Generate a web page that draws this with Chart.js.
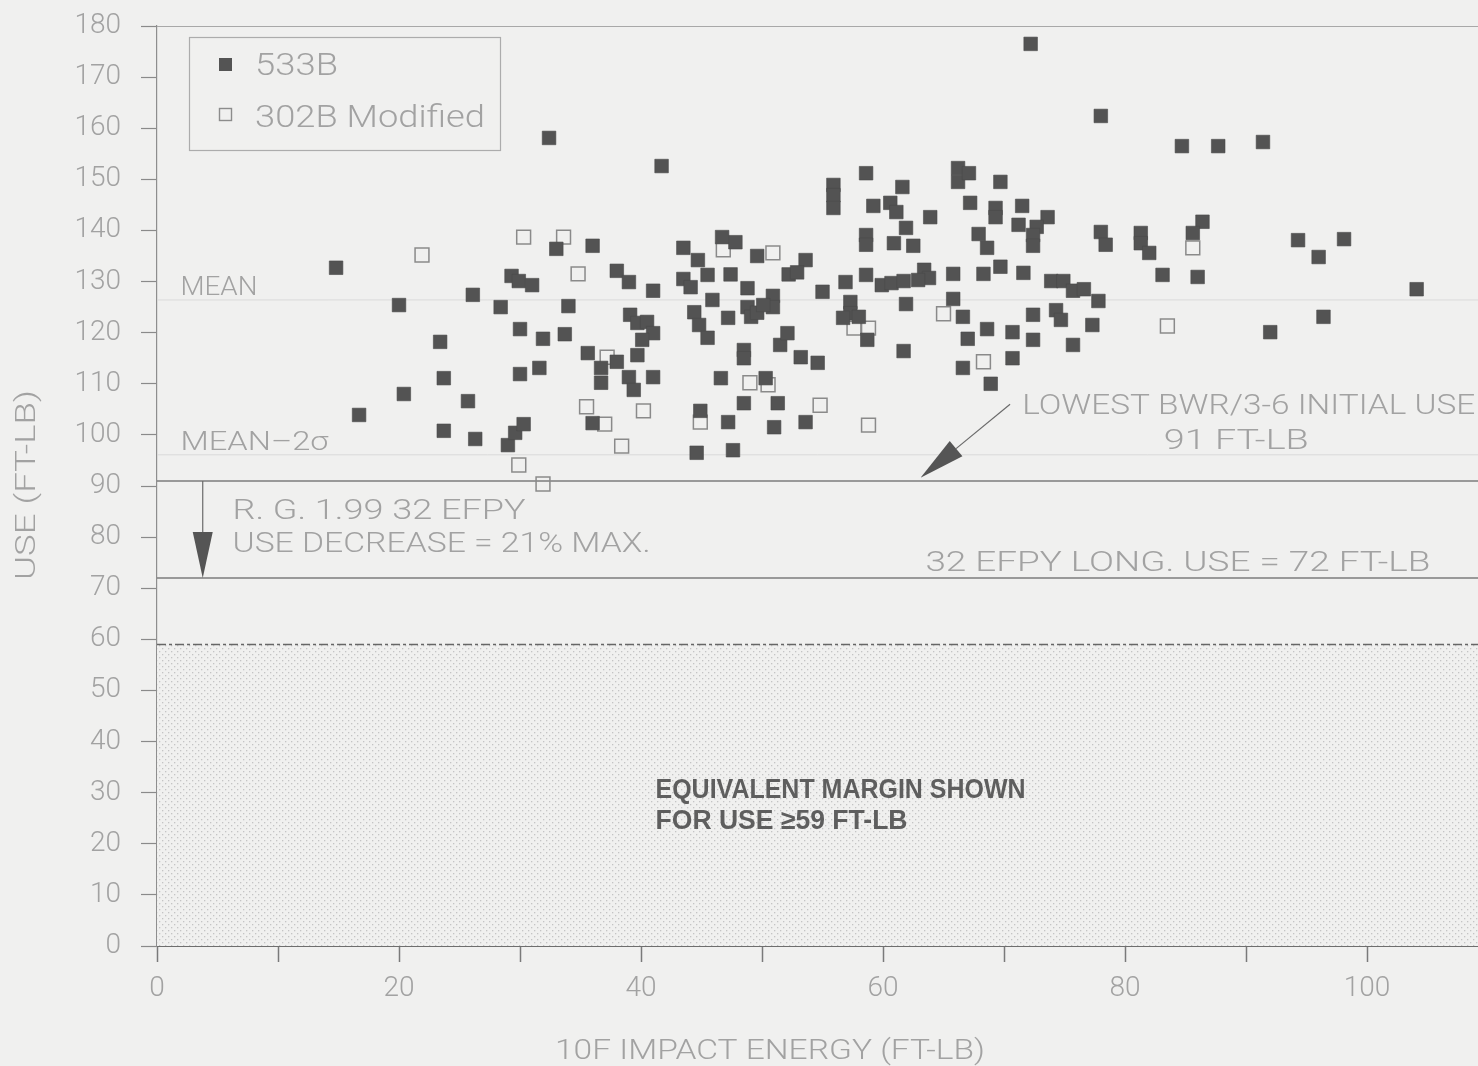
<!DOCTYPE html>
<html>
<head>
<meta charset="utf-8">
<script src="https://cdn.jsdelivr.net/npm/chart.js@4.4.1/dist/chart.umd.min.js"></script>
<style>
  html, body { margin: 0; padding: 0; background: #f0f0ef; }
  canvas { display: block; }
</style>
</head>
<body>
<canvas id="c" width="1478" height="1066"></canvas>
<script>
// 10F impact energy (x) vs. upper shelf energy (y), both in FT-LB
const x533 = [14.8,16.7,20.0,20.4,23.4,23.7,23.7,25.7,26.1,26.3,28.4,29.0,29.3,29.9,31.0,29.6,30.3,30.0,30.0,31.6,
  31.9,32.4,33.0,33.7,34.0,36.0,35.6,36.0,36.7,36.7,38.0,38.0,39.0,41.0,39.1,39.7,40.5,41.0,40.1,39.7,
  39.0,39.4,41.0,41.7,43.5,44.7,43.5,44.1,45.5,45.9,44.4,44.8,45.5,44.9,44.6,47.2,47.6,46.6,48.5,48.5,
  48.5,50.3,51.3,51.0,53.6,51.5,52.1,53.2,54.6,46.7,47.8,49.6,53.6,52.2,52.9,47.4,48.8,47.2,50.9,50.9,
  48.8,49.1,49.6,50.1,55.0,55.9,55.9,55.9,58.6,59.2,60.6,61.1,61.6,58.6,58.6,60.9,62.5,56.9,58.6,59.9,
  60.7,61.7,63.4,63.8,62.9,63.9,61.9,57.3,57.3,58.0,56.7,58.7,61.9,61.7,66.2,66.2,67.1,69.7,67.2,69.3,
  69.3,71.5,73.6,71.2,72.7,72.4,72.4,67.9,68.6,65.8,68.3,69.7,71.6,73.9,74.9,75.7,76.6,77.8,65.8,66.6,
  72.4,74.3,74.7,77.3,68.6,70.7,67.0,72.4,75.7,70.7,66.6,68.9,78.0,78.0,78.4,81.3,81.3,82.0,86.4,85.6,
  83.1,86.0,84.7,87.7,91.4,94.3,96.0,98.1,104.1,92.0,96.4,72.2];
const y533 = [132.7,103.9,125.4,108.0,118.2,111.1,100.8,106.6,127.4,99.2,125.0,98.0,131.1,130.1,129.3,100.4,102.1,120.7,111.9,113.1,
  118.8,158.1,136.4,119.7,125.2,137.0,116.0,102.3,113.1,110.2,114.3,132.1,129.9,128.2,123.5,121.9,122.1,119.9,118.6,115.6,
  111.3,108.8,111.3,152.6,136.6,134.2,130.5,128.9,131.3,126.4,124.0,121.5,119.0,104.7,96.5,102.5,97.0,111.1,116.6,115.0,
  106.2,111.1,106.2,101.5,102.5,117.6,119.9,115.2,114.1,138.7,137.7,135.0,134.2,131.4,131.8,131.4,128.7,122.9,127.2,125.0,
  125.0,123.1,123.9,125.4,128.0,148.9,146.9,144.4,151.2,144.8,145.4,143.6,148.5,139.1,137.2,137.5,137.0,129.9,131.3,129.3,
  129.7,130.1,132.3,130.7,130.3,142.6,140.5,126.0,123.8,123.1,122.9,118.6,125.6,116.4,152.2,149.5,151.2,149.5,145.4,144.4,
  142.6,144.8,142.6,141.1,140.7,139.1,137.0,139.3,136.6,131.5,131.5,132.9,131.7,130.1,130.1,128.2,128.5,126.2,126.6,123.1,
  123.5,124.4,122.5,121.5,120.7,120.1,118.8,118.6,117.6,115.0,113.1,110.0,162.4,139.7,137.2,139.5,137.5,135.6,141.7,139.5,
  131.3,130.9,156.5,156.5,157.3,138.1,134.8,138.3,128.5,120.1,123.1,176.5];

const x302 = [21.9,30.3,33.6,34.8,37.2,35.5,37.0,40.2,38.4,29.9,31.9,44.9,46.8,50.9,49.0,50.5,54.8,58.8,57.6,58.8,65.0,68.3,85.6,83.5];
const y302 = [135.2,138.7,138.7,131.5,115.2,105.5,102.1,104.7,97.8,94.1,90.4,102.5,136.2,135.6,110.2,109.8,105.8,101.9,120.9,120.9,123.7,114.3,136.6,121.3];

// reference levels (FT-LB)
const MEAN_USE = 126.4;
const MEAN_MINUS_2SIGMA = 96.1;
const LOWEST_INITIAL_USE = 91;
const LONG_USE_32EFPY = 72;
const EQUIV_MARGIN_USE = 59;

// axis ranges and ticks
const X_MIN = 0, X_MAX = 109.17, X_STEP = 10, X_LABEL_EVERY = 20;
const Y_MIN = 0, Y_MAX = 180, Y_STEP = 10;

const seriesNames = ['533B', '302B Modified'];

const zip = (xs, ys) => xs.map((x, i) => ({ x, y: ys[i] }));
const hline = v => [{ x: X_MIN, y: v }, { x: X_MAX, y: v }];

// stipple pattern for the equivalent-margin region
function dotPattern() {
  const c = document.createElement('canvas');
  c.width = 6; c.height = 6;
  const g = c.getContext('2d');
  g.fillStyle = '#f0f0ef';
  g.fillRect(0, 0, 6, 6);
  g.fillStyle = '#c4c4c4';
  g.fillRect(0, 0, 1.3, 1.3);
  g.fillRect(3, 3, 1.3, 1.3);
  return g.createPattern(c, 'repeat');
}

const TEXT_GRAY = '#a2a2a2';
const THIN = 'Roboto';

// draw text squeezed/stretched horizontally to a given width
function fitText(ctx, text, x, y, w, font, color, align) {
  ctx.save();
  ctx.font = font;
  const m = ctx.measureText(text).width;
  const s = w / m;
  ctx.translate(x, y);
  ctx.scale(s, 1);
  ctx.fillStyle = color;
  ctx.textBaseline = 'middle';
  ctx.textAlign = align || 'left';
  ctx.fillText(text, 0, 0);
  ctx.restore();
}

const notes = [
  { text: 'MEAN', x: 1.94, y: 128.7, w: 77, font: `300 26px ${THIN}`, color: TEXT_GRAY },
  { text: 'MEAN\u20132\u03C3', x: 1.94, y: 98.4, w: 148, font: `300 26px ${THIN}`, color: TEXT_GRAY },
  { text: 'R. G. 1.99 32 EFPY', x: 6.24, y: 84.9, w: 293, font: `300 27px ${THIN}`, color: TEXT_GRAY },
  { text: 'USE DECREASE = 21% MAX.', x: 6.24, y: 78.5, w: 418, font: `300 27px ${THIN}`, color: TEXT_GRAY },
  { text: '32 EFPY LONG. USE = 72 FT-LB', x: 63.5, y: 74.6, w: 505, font: `300 27px ${THIN}`, color: TEXT_GRAY },
  { text: 'LOWEST BWR/3-6 INITIAL USE', x: 71.5, y: 105.5, w: 453, font: `300 27px ${THIN}`, color: TEXT_GRAY },
  { text: '91 FT-LB', x: 83.2, y: 98.6, w: 145, font: `300 27px ${THIN}`, color: TEXT_GRAY },
  { text: 'EQUIVALENT MARGIN SHOWN', x: 41.2, y: 30.5, w: 370, font: 'bold 27px "Liberation Sans"', color: '#5e5e5e' },
  { text: 'FOR USE \u226559 FT-LB', x: 41.2, y: 24.3, w: 252, font: 'bold 27px "Liberation Sans"', color: '#5e5e5e' }
];

function arrow(ctx, x0, y0, x1, y1, headLen, headHalf) {
  const ang = Math.atan2(y1 - y0, x1 - x0);
  const bx = x1 - headLen * Math.cos(ang), by = y1 - headLen * Math.sin(ang);
  ctx.beginPath();
  ctx.moveTo(x0, y0);
  ctx.lineTo(bx, by);
  ctx.stroke();
  ctx.beginPath();
  ctx.moveTo(x1, y1);
  ctx.lineTo(bx + headHalf * Math.sin(ang), by - headHalf * Math.cos(ang));
  ctx.lineTo(bx - headHalf * Math.sin(ang), by + headHalf * Math.cos(ang));
  ctx.closePath();
  ctx.fill();
}

const decor = {
  id: 'decor',
  beforeDraw(chart) {
    const { ctx } = chart;
    ctx.save();
    ctx.fillStyle = '#f0f0ef';
    ctx.fillRect(0, 0, chart.width, chart.height);
    ctx.restore();
  },
  afterDatasetsDraw(chart) {
    const { ctx, chartArea: a, scales: { x, y } } = chart;
    ctx.save();
    // top frame line
    ctx.strokeStyle = '#a8a8a8';
    ctx.lineWidth = 1.2;
    ctx.beginPath();
    ctx.moveTo(a.left, a.top + 0.5);
    ctx.lineTo(a.right, a.top + 0.5);
    ctx.stroke();

    // annotation texts
    notes.forEach(n => fitText(ctx, n.text, x.getPixelForValue(n.x), y.getPixelForValue(n.y), n.w, n.font, n.color));

    // R.G. 1.99 decrease arrow
    ctx.strokeStyle = '#6a6a6a';
    ctx.fillStyle = '#555';
    ctx.lineWidth = 1.2;
    const ax = x.getPixelForValue(3.78);
    arrow(ctx, ax, y.getPixelForValue(LOWEST_INITIAL_USE), ax, y.getPixelForValue(LONG_USE_32EFPY), 46, 10);
    // pointer to the 91 FT-LB line
    arrow(ctx, x.getPixelForValue(70.5), y.getPixelForValue(106.0), x.getPixelForValue(63.1), y.getPixelForValue(91.6), 46, 10);

    // legend
    const lx = a.left + 32, ly = a.top + 11;
    ctx.strokeStyle = '#acacac';
    ctx.lineWidth = 1.2;
    ctx.strokeRect(lx + 0.5, ly + 0.5, 311, 113);
    ctx.fillStyle = '#545454';
    ctx.fillRect(lx + 30, ly + 21, 13, 13);
    ctx.strokeStyle = '#8c8c8c';
    ctx.lineWidth = 1.4;
    ctx.strokeRect(lx + 30.5, ly + 71.5, 12, 12);
    fitText(ctx, seriesNames[0], lx + 66, ly + 30, 83, `300 32px ${THIN}`, TEXT_GRAY);
    fitText(ctx, seriesNames[1], lx + 66, ly + 82, 230, `300 32px ${THIN}`, TEXT_GRAY);

    // axis titles
    fitText(ctx, '10F IMPACT ENERGY (FT-LB)', 770, 1052, 430, `300 27px ${THIN}`, TEXT_GRAY, 'center');
    ctx.save();
    ctx.translate(28, 485);
    ctx.rotate(-Math.PI / 2);
    fitText(ctx, 'USE (FT-LB)', 0, 0, 190, `300 27px ${THIN}`, TEXT_GRAY, 'center');
    ctx.restore();
    ctx.restore();
  }
};

const refLine = (label, v, color, width, dash, extra) => Object.assign({
  type: 'line', label, data: hline(v), borderColor: color, borderWidth: width,
  borderDash: dash || [], pointRadius: 0, fill: false, order: 5
}, extra || {});

new Chart(document.getElementById('c'), {
  type: 'scatter',
  data: {
    datasets: [
      { label: seriesNames[0], data: zip(x533, y533), pointStyle: 'rect', pointRadius: 9.6,
        backgroundColor: '#535353', borderColor: '#4a4a4a', borderWidth: 0.6, order: 0 },
      { label: seriesNames[1], data: zip(x302, y302), pointStyle: 'rect', pointRadius: 9.8,
        backgroundColor: 'rgba(240,240,239,0)', borderColor: '#8a8a8a', borderWidth: 1.5, order: 1 },
      refLine('margin', EQUIV_MARGIN_USE, '#666666', 1.6, [9, 3, 3, 3], { fill: 'origin', backgroundColor: dotPattern(), order: 6 }),
      refLine('mean', MEAN_USE, '#dadada', 1),
      refLine('mean-2s', MEAN_MINUS_2SIGMA, '#dadada', 1),
      refLine('lowest', LOWEST_INITIAL_USE, '#7c7c7c', 1.5),
      refLine('long', LONG_USE_32EFPY, '#7c7c7c', 1.5)
    ]
  },
  options: {
    responsive: false,
    animation: false,
    devicePixelRatio: 1,
    layout: { autoPadding: false, padding: { top: 26, right: 0, bottom: 0, left: 0 } },
    plugins: { legend: { display: false }, tooltip: { enabled: false } },
    scales: {
      x: {
        type: 'linear', min: X_MIN, max: X_MAX,
        ticks: {
          stepSize: X_STEP, includeBounds: false, autoSkip: false, maxRotation: 0,
          callback: v => (v % X_LABEL_EVERY === 0 ? String(v) : ''),
          color: TEXT_GRAY, font: { family: THIN, weight: 300, size: 28 }, padding: 10
        },
        grid: { drawOnChartArea: false, drawTicks: true, tickLength: 16, tickColor: '#7a7a7a', tickWidth: 1.5 },
        border: { display: true, color: '#6e6e6e', width: 2 },
        afterFit: s => { s.height = 120; s.paddingLeft = 0; s.paddingRight = 0; }
      },
      y: {
        type: 'linear', min: Y_MIN, max: Y_MAX,
        ticks: { stepSize: Y_STEP, color: TEXT_GRAY, font: { family: THIN, weight: 300, size: 28 }, padding: 20 },
        grid: { drawOnChartArea: false, drawTicks: true, tickLength: 16, tickColor: '#8a8a8a', tickWidth: 1.2 },
        border: { display: true, color: '#8e8e8e', width: 1.2 },
        afterFit: s => { s.width = 157; s.paddingTop = 0; s.paddingBottom = 0; }
      }
    }
  },
  plugins: [decor]
});
</script>
</body>
</html>
